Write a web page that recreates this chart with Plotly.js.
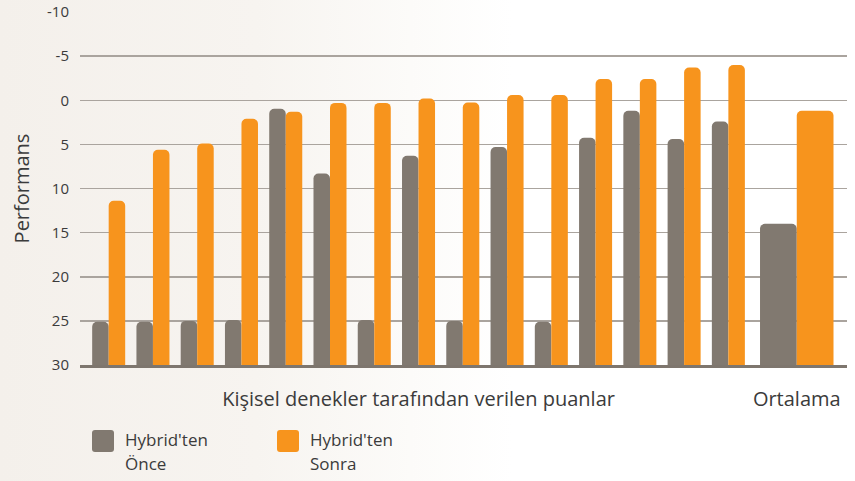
<!DOCTYPE html>
<html>
<head>
<meta charset="utf-8">
<script src="https://cdn.plot.ly/plotly-3.0.1.min.js"></script>
<style>
  html, body { margin: 0; padding: 0; }
  body {
    width: 855px; height: 481px; overflow: hidden;
    background: linear-gradient(90deg, #f4f0eb 0%, #f7f4f0 30%, #fcfbf9 48%, #ffffff 60%, #ffffff 100%);
  }
  #chart { width: 855px; height: 481px; }
</style>
</head>
<body>
<div id="chart"></div>
<script>
// ---- data ----
const subjectScoresBefore = [25.1, 25.1, 25.0, 24.9, 0.96, 8.3, 24.9, 6.3, 25.0, 5.3, 25.1, 4.25, 1.2, 4.4, 2.4];
const subjectScoresAfter  = [11.4, 5.6, 4.9, 2.1, 1.3, 0.3, 0.3, -0.2, 0.25, -0.6, -0.6, -2.4, -2.4, -3.7, -4.0];
const averageBefore = 14.0;
const averageAfter  = 1.2;
const groupLabels = ['Kişisel denekler tarafından verilen puanlar', 'Ortalama'];
const seriesNameLines = [["Hybrid'ten", 'Önce'], ["Hybrid'ten", 'Sonra']];
const yTickVals = [-10, -5, 0, 5, 10, 15, 20, 25, 30];
const yTickText = ['-10', '-5', '0', '5', '10', '15', '20', '25', '30'];

// ---- styling / layout ----
const GRAY = '#817970', ORANGE = '#f7941d', TEXT = '#3b3b3b';
const FONT = 'Open Sans, sans-serif';
const yBottom = yTickVals[yTickVals.length - 1];   // bars rise from the bottom of the reversed axis
const barFloor = yBottom + 1;                       // start just below the frame so only the tips look rounded
const n = subjectScoresBefore.length;
const subjX = subjectScoresBefore.map((_, i) => i + 1);
const avgX = n + 1.545;
const allX = subjX.concat([avgX]);
const widths = subjX.map(() => 0.373).concat([0.83]);
const before = subjectScoresBefore.concat([averageBefore]);
const after = subjectScoresAfter.concat([averageAfter]);

const traceBefore = {
  type: 'bar', x: allX, y: before.map(v => v - barFloor), base: barFloor,
  width: widths, offset: widths.map(w => -w),
  marker: { color: GRAY, cornerradius: 5 }, hoverinfo: 'skip', showlegend: false
};
const traceAfter = {
  type: 'bar', x: allX, y: after.map(v => v - barFloor), base: barFloor,
  width: widths, offset: widths.map(() => 0),
  marker: { color: ORANGE, cornerradius: 5 }, hoverinfo: 'skip', showlegend: false
};

// pixel frame: plots span x 80..847; main plot y 12..365; legend strip y 420..477
const W = 855, H = 481, mL = 80, mR = 8, mT = 12, mB = 4;
const paperH = H - mT - mB;
const mainBottomPx = 365, legendTopPx = 420;
const mainDomain = [(H - mB - mainBottomPx) / paperH, 1];
const legendDomain = [0, (H - mB - legendTopPx) / paperH];

// legend drawn as traces on a hidden pixel-unit subplot
const legendSwatchX = [103, 288];
const legendTextX = [125, 310];
const legendSwatch = {
  type: 'bar', xaxis: 'x2', yaxis: 'y2',
  x: legendSwatchX, y: [22, 22], base: [430, 430], width: [22, 22],
  marker: { color: [GRAY, ORANGE], cornerradius: 3 }, hoverinfo: 'skip', showlegend: false
};
const legendText = {
  type: 'scatter', mode: 'text', xaxis: 'x2', yaxis: 'y2',
  x: [legendTextX[0], legendTextX[0], legendTextX[1], legendTextX[1]],
  y: [442, 466, 442, 466],
  text: [seriesNameLines[0][0], seriesNameLines[0][1], seriesNameLines[1][0], seriesNameLines[1][1]],
  textposition: 'middle right',
  textfont: { family: FONT, size: 17, color: TEXT },
  hoverinfo: 'skip', showlegend: false, cliponaxis: false
};

const layout = {
  width: W, height: H,
  margin: { l: mL, r: mR, t: mT, b: mB },
  paper_bgcolor: 'rgba(0,0,0,0)', plot_bgcolor: 'rgba(0,0,0,0)',
  barmode: 'overlay',
  font: { family: FONT, color: TEXT },
  xaxis: {
    anchor: 'y', domain: [0, 1],
    range: [0.352, 17.68], tickvals: [(1 + n) / 2, avgX], ticktext: groupLabels,
    showgrid: false, zeroline: false, showline: true, linecolor: '#7e766e', linewidth: 3,
    ticks: '', ticklabelstandoff: 14, tickfont: { size: 20, color: TEXT }, fixedrange: true
  },
  yaxis: {
    anchor: 'x', domain: mainDomain,
    range: [yBottom, yTickVals[0]], tickvals: yTickVals, ticktext: yTickText,
    showgrid: true, gridcolor: '#aaa49e', gridwidth: 1.5, zeroline: false, showline: false,
    ticks: '', ticklabelstandoff: 10, tickfont: { size: 15, color: TEXT },
    title: { text: 'Performans', font: { size: 20, color: TEXT }, standoff: 12 },
    automargin: false, fixedrange: true
  },
  xaxis2: { anchor: 'y2', domain: [0, 1], range: [mL, W - mR], visible: false, fixedrange: true },
  yaxis2: { anchor: 'x2', domain: legendDomain, range: [H - mB, legendTopPx], visible: false, fixedrange: true },
  showlegend: false
};

Plotly.newPlot('chart', [traceBefore, traceAfter, legendSwatch, legendText], layout,
  { displayModeBar: false, staticPlot: true });
</script>
</body>
</html>
